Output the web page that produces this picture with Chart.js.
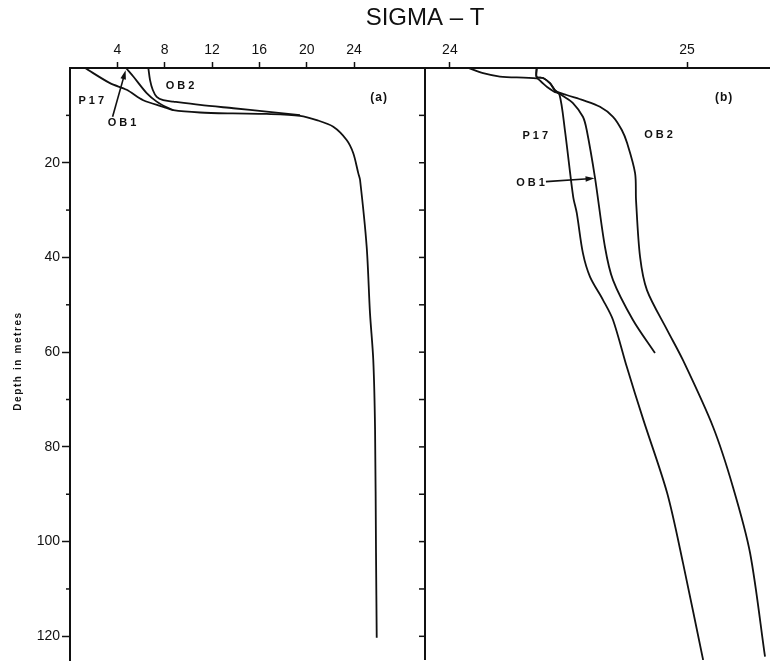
<!DOCTYPE html>
<html>
<head>
<meta charset="utf-8">
<script src="https://cdn.jsdelivr.net/npm/chart.js@4.4.1/dist/chart.umd.min.js"></script>
<style>
  html, body { margin: 0; padding: 0; background: #fff; }
</style>
</head>
<body>
<canvas id="sigmaChart" width="770" height="664"></canvas>
<script>
// panel (a) - whole column
const depthP17a = [0, 3.2, 4.6, 6.8, 8.2, 8.9, 9.4, 9.6, 9.7, 10.1, 11.0, 12.4, 15.2, 18.0, 22.2, 23.6, 37.7, 51.7, 61.7, 76.4, 102.4, 120.3];
const sigmaP17a = [1.27, 3.38, 4.79, 6.19, 7.88, 8.73, 10.99, 13.77, 16.62, 19.44, 20.85, 22.25, 23.38, 23.94, 24.36, 24.51, 25.07, 25.35, 25.63, 25.78, 25.86, 25.92];
const depthOB1a = [0, 1.8, 5.3, 7.1, 8.3, 8.9];
const sigmaOB1a = [4.73, 5.35, 6.48, 7.33, 8.17, 8.73];
const depthOB2a = [0, 2.5, 4.6, 6.1, 6.8, 7.1, 7.8, 8.5, 9.2, 9.95];
const sigmaOB2a = [6.62, 6.76, 6.99, 7.33, 7.88, 8.73, 10.99, 13.8, 16.62, 19.44];

// panel (b) - expanded scale
const depthP17b = [0, 1.1, 1.8, 2.2, 2.9, 4.0, 5.0, 5.6, 13.1, 27.2, 30.6, 39.1, 44.1, 49.0, 53.2, 63.1, 74.3, 89.7, 104.5, 125];
const sigmaP17b = [24.078, 24.14, 24.211, 24.366, 24.385, 24.41, 24.44, 24.462, 24.485, 24.52, 24.535, 24.561, 24.591, 24.646, 24.688, 24.746, 24.816, 24.916, 24.983, 25.068];
const depthOB1b = [0, 1.9, 2.1, 3.2, 4.8, 5.9, 7.4, 10.3, 13.1, 23.2, 37.8, 44.8, 53.2, 60.2];
const sigmaOB1b = [24.366, 24.366, 24.393, 24.422, 24.445, 24.477, 24.519, 24.561, 24.577, 24.612, 24.654, 24.688, 24.772, 24.865];
const depthOB2b = [0, 1.9, 2.1, 3.2, 4.8, 5.7, 6.8, 8.2, 10.3, 13.1, 15.8, 22.2, 27.9, 39.9, 46.9, 55.3, 61.7, 75.8, 88.5, 102.4, 124.3];
const sigmaOB2b = [24.366, 24.366, 24.393, 24.422, 24.445, 24.492, 24.561, 24.633, 24.688, 24.725, 24.747, 24.781, 24.785, 24.802, 24.831, 24.916, 24.983, 25.11, 25.194, 25.266, 25.329];

const ticksA = [4, 8, 12, 16, 20, 24];
const ticksB = [24, 25];
const depthTicks = [20, 40, 60, 80, 100, 120];
const depthMinorTicks = [10, 30, 50, 70, 90, 110];

const ink = '#111';

function pts(xs, ys) {
    return xs.map((x, i) => ({ x: x, y: ys[i] }));
}

function curve(data, axis) {
    return {
        data: data,
        xAxisID: axis,
        yAxisID: 'y',
        showLine: true,
        borderColor: ink,
        borderWidth: 1.8,
        pointRadius: 0,
        tension: 0.3,
        fill: false,
    };
}

function arrow(ctx, x1, y1, x2, y2) {
    const a = Math.atan2(y2 - y1, x2 - x1);
    ctx.beginPath();
    ctx.moveTo(x1, y1);
    ctx.lineTo(x2 - 6 * Math.cos(a), y2 - 6 * Math.sin(a));
    ctx.lineWidth = 1.6;
    ctx.stroke();
    ctx.beginPath();
    ctx.moveTo(x2, y2);
    ctx.lineTo(x2 - 9 * Math.cos(a) + 2.8 * Math.sin(a), y2 - 9 * Math.sin(a) - 2.8 * Math.cos(a));
    ctx.lineTo(x2 - 9 * Math.cos(a) - 2.8 * Math.sin(a), y2 - 9 * Math.sin(a) + 2.8 * Math.cos(a));
    ctx.closePath();
    ctx.fill();
}

const extras = {
    id: 'extras',
    afterDraw(chart) {
        const ctx = chart.ctx;
        const xa = chart.scales.xa, xb = chart.scales.xb, y = chart.scales.y;
        const area = chart.chartArea;
        ctx.save();
        ctx.strokeStyle = ink;
        ctx.fillStyle = ink;

        // divider between the panels, with ticks pointing into (a)
        const xd = xa.right;
        ctx.lineWidth = 2;
        ctx.beginPath();
        ctx.moveTo(xd, area.top);
        ctx.lineTo(xd, area.bottom);
        ctx.stroke();
        ctx.lineWidth = 1.5;
        depthTicks.concat(depthMinorTicks).forEach(d => {
            const py = y.getPixelForValue(d);
            ctx.beginPath();
            ctx.moveTo(xd, py);
            ctx.lineTo(xd - 6, py);
            ctx.stroke();
        });
        // short ticks on the depth axis
        depthMinorTicks.forEach(d => {
            const py = y.getPixelForValue(d);
            ctx.beginPath();
            ctx.moveTo(area.left, py);
            ctx.lineTo(area.left - 4, py);
            ctx.stroke();
        });

        // title
        ctx.font = '24px "Liberation Sans", Arial, sans-serif';
        ctx.textAlign = 'center';
        ctx.textBaseline = 'middle';
        ctx.fillText('SIGMA \u2013 T', xd, 18);

        // depth axis title
        ctx.save();
        ctx.translate(18, (area.top + area.bottom) / 2 - 3);
        ctx.rotate(-Math.PI / 2);
        ctx.font = 'bold 10px "Liberation Sans", Arial, sans-serif';
        ctx.letterSpacing = '1.6px';
        ctx.fillText('Depth in metres', 0, 0);
        ctx.restore();

        // curve labels
        ctx.font = 'bold 11px "Liberation Sans", Arial, sans-serif';
        ctx.letterSpacing = '3px';
        const tag = (sc, text, sx, d) => ctx.fillText(text, sc.getPixelForValue(sx) + 1.5, y.getPixelForValue(d));
        tag(xa, 'P17', 1.8, 7.0);
        tag(xa, 'OB2', 9.3, 3.8);
        tag(xa, 'OB1', 4.4, 11.6);
        tag(xb, 'P17', 24.36, 14.3);
        tag(xb, 'OB2', 24.88, 14.1);
        tag(xb, 'OB1', 24.34, 24.2);

        ctx.font = 'bold 12px "Liberation Sans", Arial, sans-serif';
        ctx.letterSpacing = '1px';
        tag(xa, '(a)', 26.0, 6.3);
        tag(xb, '(b)', 25.15, 6.3);
        ctx.letterSpacing = '0px';

        arrow(ctx, xa.getPixelForValue(3.6), y.getPixelForValue(10.3),
                   xa.getPixelForValue(4.7), y.getPixelForValue(0.5));
        arrow(ctx, xb.getPixelForValue(24.405), y.getPixelForValue(24.0),
                   xb.getPixelForValue(24.61), y.getPixelForValue(23.3));
        ctx.restore();
    }
};

function topAxis(min, max, weight, stackWeight, tickValues) {
    return {
        type: 'linear',
        position: 'top',
        stack: 'panels',
        stackWeight: stackWeight,
        weight: weight,
        min: min,
        max: max,
        afterBuildTicks: s => { s.ticks = tickValues.map(v => ({ value: v })); },
        afterFit: s => { s.height = 68; s.paddingLeft = 0; s.paddingRight = 0; },
        ticks: {
            color: ink,
            padding: 3,
            maxRotation: 0,
            autoSkip: false,
            font: { family: '"Liberation Sans", Arial, sans-serif', size: 14 },
        },
        grid: { drawOnChartArea: false, tickLength: 6, tickColor: ink, tickWidth: 1.5 },
        border: { color: ink, width: 2 },
    };
}

new Chart(document.getElementById('sigmaChart'), {
    type: 'scatter',
    data: {
        datasets: [
            curve(pts(sigmaP17a, depthP17a), 'xa'),
            curve(pts(sigmaOB1a, depthOB1a), 'xa'),
            curve(pts(sigmaOB2a, depthOB2a), 'xa'),
            curve(pts(sigmaP17b, depthP17b), 'xb'),
            curve(pts(sigmaOB1b, depthOB1b), 'xb'),
            curve(pts(sigmaOB2b, depthOB2b), 'xb'),
        ],
    },
    options: {
        responsive: false,
        animation: false,
        layout: { padding: { top: 0, left: 0, right: 0, bottom: 4 } },
        plugins: { legend: { display: false }, tooltip: { enabled: false }, title: { display: false } },
        scales: {
            xa: topAxis(0, 30, 1, 355, ticksA),
            xb: topAxis(23.895, 25.35, 0, 345, ticksB),
            y: {
                type: 'linear',
                position: 'left',
                reverse: true,
                min: 0,
                max: 125,
                afterBuildTicks: s => { s.ticks = depthTicks.map(v => ({ value: v })); },
                afterFit: s => { s.width = 70; s.paddingTop = 0; s.paddingBottom = 0; },
                ticks: {
                    color: ink,
                    padding: 2,
                    font: { family: '"Liberation Sans", Arial, sans-serif', size: 14 },
                },
                grid: { drawOnChartArea: false, tickLength: 8, tickColor: ink, tickWidth: 1.5 },
                border: { color: ink, width: 2 },
            },
        },
    },
    plugins: [extras],
});
</script>
</body>
</html>
